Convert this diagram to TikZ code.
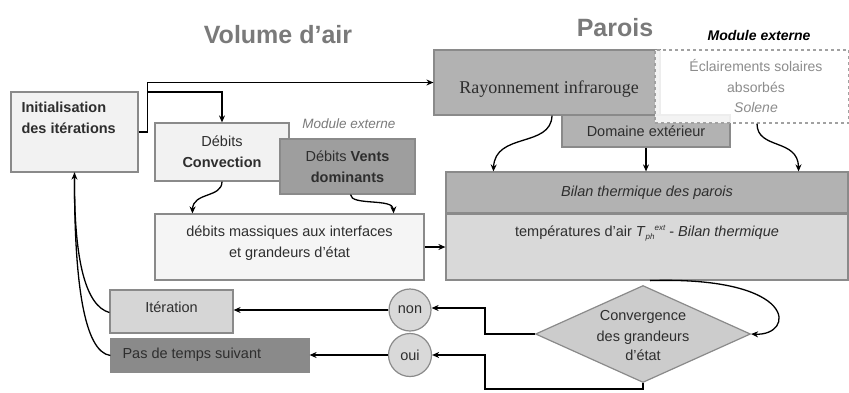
\documentclass[tikz,border=0pt]{standalone}
\usepackage{fontspec}
\setmainfont{Liberation Sans}
\newfontfamily\serifr{Liberation Serif}
\usetikzlibrary{shapes.geometric,arrows.meta}
\definecolor{bord}{HTML}{8A8A8A}
\definecolor{txt}{HTML}{2E2E2E}
\definecolor{ttl}{HTML}{7A7A7A}
\tikzset{
  box/.style={draw=bord, line width=1.2pt, rectangle, inner sep=0pt, text=txt, align=center,
    font=\fontsize{14.5}{21}\selectfont},
  arr/.style={line width=1.3pt, draw=black, -{Stealth[length=7pt,width=6pt]}},
  ln/.style={line width=1.3pt, draw=black},
  ttlf/.style={text=ttl, font=\fontsize{25}{28}\selectfont\bfseries},
  lab/.style={text=txt, font=\fontsize{14.5}{21}\selectfont, align=center},
}
\begin{document}
\begin{tikzpicture}[x=1pt,y=-1pt]
\useasboundingbox (0,0) rectangle (849,392);
\fill[white] (0,0) rectangle (849,392);
% titles
\node[ttlf] (tvol) at (278,35) {Volume d'air};
\node[ttlf] (tpar) at (615,28) {Parois};
\node[font=\fontsize{14}{16}\selectfont\bfseries\itshape] (tmod) at (759,35) {Module externe};
% left column
\node[box, fill=black!5, minimum width=127, minimum height=80] (init) at (74.5,132) {};
\node[lab, font=\fontsize{14.5}{21}\selectfont\bfseries, align=left, anchor=north west] (initt) at (18,98) {Initialisation\\des itérations};
\node[box, fill=black!5, minimum width=134, minimum height=58] (conv) at (222,152) {Débits\\\textbf{Convection}};
\node[text=ttl, font=\fontsize{13.5}{16}\selectfont\itshape] (modm) at (349,124) {Module externe};
\node[box, fill=black!38, minimum width=135, minimum height=55] (vents) at (347.5,166.5) {Débits \textbf{Vents}\\\textbf{dominants}};
\node[box, fill=black!4, minimum width=269, minimum height=66] (mass) at (289.5,247) {};
\node[lab] (masst) at (289.5,243) {débits massiques aux interfaces\\et grandeurs d'état};
\node[box, fill=black!16, minimum width=123, minimum height=43] (iter) at (171.5,311.5) {};
\node[lab] (itert) at (171.5,307) {Itération};
\node[box, fill=black!46, minimum width=198, minimum height=33] (pas) at (210,355.5) {};
\node[lab, anchor=west] (past) at (119,355) {Pas de temps suivant};
% right column
\node[box, fill=black!30, minimum width=226, minimum height=65] (rayon) at (547,82.5) {};
\node[text=txt, font=\fontsize{18}{20}\selectfont\serifr] (rayt) at (549,89) {Rayonnement infrarouge};
\node[box, fill=black!30, minimum width=168, minimum height=32] (dom) at (646,131) {Domaine extérieur};
\node[box, draw=bord!80, dashed, fill=white, fill opacity=0.85, text opacity=1, minimum width=194, minimum height=73] (ecl) at (752,86.5) {};
\node[lab, text=black!45, font=\fontsize{14}{20.5}\selectfont] (eclt) at (756,86) {Éclairements solaires\\absorbés\\\textit{Solene}};
\node[box, fill=black!30, minimum width=402, minimum height=41] (bilan) at (647,192.5) {\textit{Bilan thermique des parois}};
\node[box, fill=black!15, minimum width=402, minimum height=66] (temp) at (647,247) {};
\node[lab] (tempt) at (647,233) {températures d'air \textit{T}\raisebox{-3pt}{\fontsize{8}{8}\selectfont\itshape ph}\raisebox{6pt}{\fontsize{8}{8}\selectfont\itshape ext} - \textit{Bilan thermique}};
\node[box, diamond, fill=black!20, aspect=2.2, minimum width=215, minimum height=97] (dia) at (643,334) {};
\node[lab, font=\fontsize{14.5}{20}\selectfont] (diat) at (643,336) {Convergence\\des grandeurs\\d'état};
\node[box, circle, fill=black!15, minimum size=42] (non) at (410,310) {non};
\node[box, circle, fill=black!15, minimum size=43] (oui) at (410,355) {oui};
% connectors
\coordinate (br) at (147,92);
\draw[arr] (init.east) -- ++(9,0) |- (rayon.west);
\draw[arr] (br) -| (conv.north);
\draw[arr] (conv.south) .. controls (222,198) and (193,192) .. ([xshift=38]mass.north west);
\draw[arr] ([xshift=3]vents.south) .. controls (351,206) and (393,198) .. ([xshift=-31]mass.north east);
\draw[arr] (mass.east) -- (temp.west);
\draw[arr] ([xshift=5]rayon.south) .. controls (551,148) and (495,132) .. ([xshift=48]bilan.north west);
\draw[arr] (dom.south) -- (dom.south |- bilan.north);
\draw[arr] ([xshift=5]ecl.south) .. controls (757,150) and (798,138) .. ([xshift=-50]bilan.north east);
\draw[arr] ([xshift=3]temp.south) .. controls (800,276) and (795,336) .. (dia.east);
\coordinate (k0) at (485,334);
\coordinate (k1) at (485,389);
\draw[arr] (dia.west) -- (k0) |- ([yshift=2]non.east);
\draw[arr] (dia.south) |- (k1) |- (oui.east);
\draw[arr] (non.west) -- (non.west -| iter.east);
\draw[arr] (oui.west) -- (oui.west -| pas.east);
\draw[arr] ([yshift=-1]iter.west) .. controls (86,306) and (74,262) .. (init.south);
\draw[ln] (pas.west) .. controls (84,352) and (74,282) .. (init.south);
\end{tikzpicture}
\end{document}
